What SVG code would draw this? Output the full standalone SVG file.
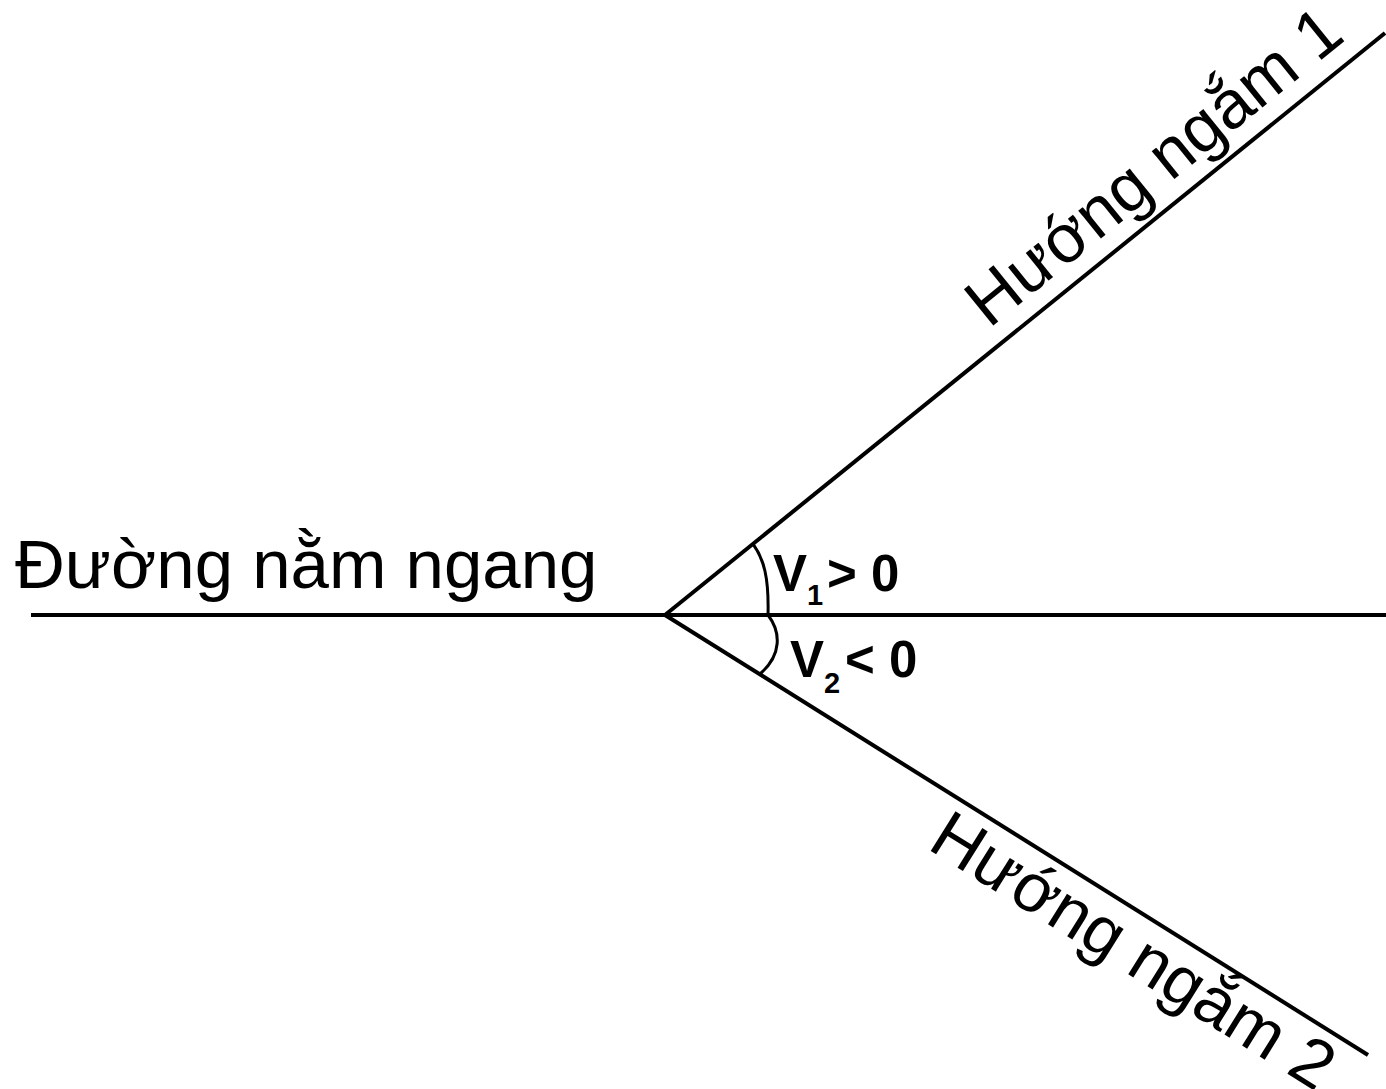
<svg xmlns="http://www.w3.org/2000/svg" width="1386" height="1089" viewBox="0 0 1386 1089">
<style>
.ln{stroke:#000;stroke-width:4;fill:none;stroke-linecap:butt}
.arc{stroke:#000;stroke-width:3;fill:none}
.lbl{font-family:"Liberation Sans",Arial,sans-serif;font-size:69px;fill:#000}
.rot{font-size:68px}
.ang{font-family:"Liberation Sans",Arial,sans-serif;font-size:51px;font-weight:bold;fill:#000}
.sub{font-size:29px}
</style>
<rect width="1386" height="1089" fill="#fff"/>
<g id="connectors">
<line class="ln" x1="31" y1="615" x2="1386" y2="615"/>
<line class="ln" x1="665" y1="615" x2="1385" y2="33"/>
<line class="ln" x1="665" y1="615" x2="1368" y2="1055"/>
<path class="arc" d="M753,544 C764,559 769,578 768,615"/>
<path class="arc" d="M768,615 C781,632 782,655 760,674"/>
</g>
<g id="horizontal-label">
<text class="lbl" x="15" y="588">Đường nằm ngang</text>
</g>
<g id="sight1-label">
<text class="lbl rot" transform="translate(989,329) rotate(-39)" x="0" y="0">Hướng ngắm 1</text>
</g>
<g id="sight2-label">
<text class="lbl rot" transform="translate(926,848) rotate(32)" x="0" y="0">Hướng ngắm 2</text>
</g>
<g id="v1-label">
<text class="ang" y="591"><tspan x="773">V</tspan><tspan class="sub" x="807" y="605">1</tspan><tspan x="827" y="591">&gt; 0</tspan></text>
</g>
<g id="v2-label">
<text class="ang" y="677"><tspan x="790">V</tspan><tspan class="sub" x="824" y="693">2</tspan><tspan x="845" y="677">&lt; 0</tspan></text>
</g>
</svg>
